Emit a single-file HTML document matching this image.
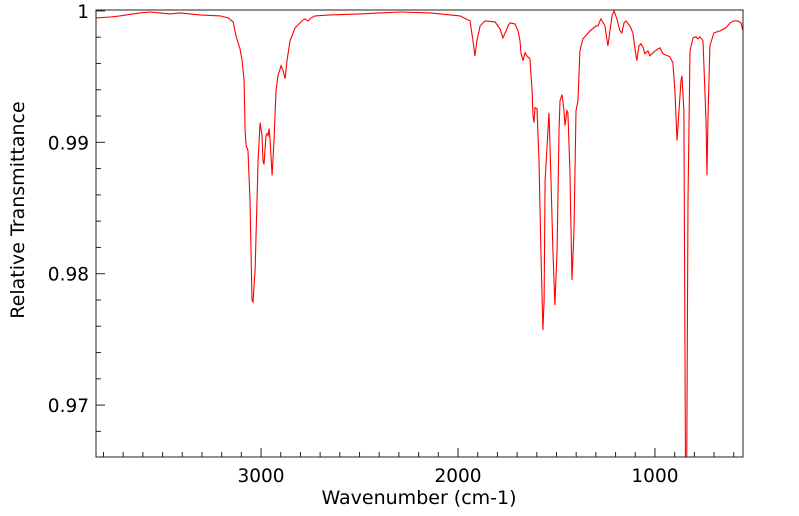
<!DOCTYPE html>
<html><head><meta charset="utf-8"><style>
html,body{margin:0;padding:0;background:#fff;width:799px;height:516px;overflow:hidden}
svg{display:block}
text{font-family:"DejaVu Sans","Liberation Sans",sans-serif;fill:#000}
</style></head><body>
<svg id="chart" width="799" height="516" xmlns="http://www.w3.org/2000/svg">
<defs><clipPath id="clip"><rect x="96" y="10" width="647" height="447"/></clipPath></defs>
<g id="ticks"></g>
<path id="spectrum" clip-path="url(#clip)" fill="none" stroke="#ff0000" stroke-width="1.1"/>
<rect x="96" y="10" width="647" height="447" fill="none" stroke="#222" stroke-width="1"/>
<text x="419" y="504" text-anchor="middle" font-size="19">Wavenumber (cm-1)</text>
<text transform="translate(24,210) rotate(-90)" text-anchor="middle" font-size="19">Relative Transmittance</text>
</svg>
<script>
const wavenumbers=[3838,3766,3716,3614,3563,3513,3462,3411,3310,3208,3168,3142,3127,3107,3096,3086,3081,3076,3066,3056,3046,3041,3030,3015,3005,2995,2990,2985,2975,2970,2964,2959,2954,2944,2934,2924,2914,2898,2888,2878,2868,2853,2827,2802,2787,2777,2761,2746,2726,2650,2497,2294,2142,1990,1939,1924,1914,1904,1888,1863,1812,1787,1772,1756,1746,1736,1711,1695,1685,1680,1670,1660,1650,1635,1624,1619,1614,1609,1599,1589,1579,1569,1563,1558,1538,1528,1518,1508,1497,1487,1482,1472,1462,1457,1447,1442,1432,1421,1411,1401,1391,1381,1366,1330,1300,1289,1279,1274,1254,1239,1218,1208,1193,1178,1168,1157,1147,1127,1112,1102,1092,1081,1071,1061,1051,1036,1025,1015,1000,975,959,924,909,899,888,878,868,863,853,842,832,822,807,792,782,772,756,741,736,731,721,701,670,640,619,599,579,563,553];
const transmittance=[.99947,.99954,.99962,.99985,.99992,.99985,.99977,.99985,.9997,.99962,.99947,.99917,.9981,.99712,.99621,.99469,.99089,.98975,.98937,.98558,.97799,.97784,.98027,.98862,.9915,.99051,.98862,.98831,.99051,.99066,.99051,.99104,.99013,.98748,.99013,.99393,.99507,.99583,.99545,.99484,.99621,.99772,.99871,.99909,.99932,.99939,.99924,.99947,.99962,.9997,.99977,.99992,.99985,.99962,.99924,.99772,.99658,.99772,.99886,.99924,.99917,.99863,.99795,.99848,.99886,.99909,.99901,.99848,.99772,.99681,.99621,.99681,.99658,.99636,.99393,.99203,.9915,.99264,.99256,.98862,.98178,.97571,.97799,.9871,.99226,.9871,.98178,.97761,.98178,.99089,.99317,.99362,.99241,.99127,.99241,.99226,.98786,.97951,.9833,.99241,.99317,.99696,.99787,.99848,.99886,.99886,.99924,.99939,.99886,.99734,.99962,1.0,.99939,.99848,.99833,.99909,.99924,.99886,.99833,.99719,.99621,.99734,.9975,.99727,.99674,.99696,.99658,.99674,.99696,.99719,.99674,.99651,.99605,.99393,.99013,.99241,.99469,.99507,.99241,.955,.98558,.99696,.99795,.99803,.99787,.99803,.99772,.99165,.98748,.99165,.99734,.99833,.99848,.99871,.99909,.99924,.99924,.99909,.99848];
const xTickLabels=[3000,2000,1000];
const yTickLabels=[1,0.99,0.98,0.97];
const W0=3838,W1=553,Y0=1.00007,Y1=0.96605;
const L=96,R=743,T=10,B=457;
const xs=w=>L+(W0-w)/(W0-W1)*(R-L);
const ys=v=>T+(Y0-v)/(Y0-Y1)*(B-T);
const NS='http://www.w3.org/2000/svg';
let d='';
wavenumbers.forEach((w,i)=>{d+=(i?'L':'M')+xs(w).toFixed(1)+','+ys(transmittance[i]).toFixed(1);});
document.getElementById('spectrum').setAttribute('d',d);
const g=document.getElementById('ticks');
function line(x1,y1,x2,y2){const l=document.createElementNS(NS,'line');
l.setAttribute('x1',x1);l.setAttribute('y1',y1);l.setAttribute('x2',x2);l.setAttribute('y2',y2);
l.setAttribute('stroke','#222');l.setAttribute('stroke-width','1');


g.appendChild(l);}
for(let w=3800;w>=600;w-=100){const x=xs(w);const major=w%1000===0;line(x,B,x,B-(major?9:5));}
for(let k=0;k<=17;k++){const v=1-k*0.002;if(v<Y1)break;const y=ys(v);const major=k%5===0;line(L,y,L+(major?9:5),y);}
xTickLabels.forEach(w=>{const t=document.createElementNS(NS,'text');
t.setAttribute('x',xs(w));t.setAttribute('y',482);t.setAttribute('text-anchor','middle');t.setAttribute('font-size','18.5');


t.textContent=w;document.getElementById('chart').appendChild(t);});
yTickLabels.forEach(v=>{const t=document.createElementNS(NS,'text');
t.setAttribute('x',89);t.setAttribute('y',ys(v)+7);t.setAttribute('text-anchor','end');t.setAttribute('font-size','18.5');


t.textContent=String(v);document.getElementById('chart').appendChild(t);});
</script>
</body></html>
